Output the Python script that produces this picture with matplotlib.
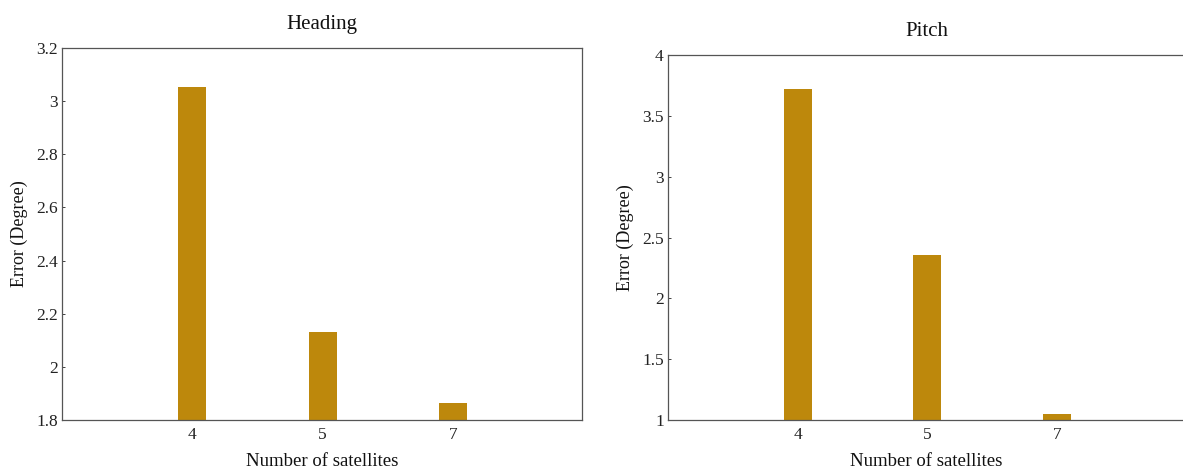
import matplotlib
matplotlib.use("Agg")
import matplotlib.pyplot as plt

categories = ["4", "5", "7"]
heading_err = [3.055, 2.13, 1.865]
pitch_err = [3.72, 2.36, 1.05]
heading_ticks = [1.8, 2.0, 2.2, 2.4, 2.6, 2.8, 3.0, 3.2]
heading_ticklabels = ["1.8", "2", "2.2", "2.4", "2.6", "2.8", "3", "3.2"]
pitch_ticks = [1.0, 1.5, 2.0, 2.5, 3.0, 3.5, 4.0]
pitch_ticklabels = ["1", "1.5", "2", "2.5", "3", "3.5", "4"]

plt.rcParams['font.family'] = ['Liberation Serif', 'DejaVu Serif']

W, H = 1183, 473
fig = plt.figure(figsize=(W / 100, H / 100), dpi=100)

bar_color = "#BD880C"
spine_color = "#555555"

def make_ax(left, right, top, bottom):
    return fig.add_axes([left / W, 1 - bottom / H, (right - left) / W, (bottom - top) / H])

ax1 = make_ax(62, 582, 48, 420)
ax2 = make_ax(668, 1185, 55, 420)

pos = [1, 2, 3]
for ax, vals, ylim, ticks, tlabels, title in [
    (ax1, heading_err, (1.8, 3.2), heading_ticks, heading_ticklabels, "Heading"),
    (ax2, pitch_err, (1.0, 4.0), pitch_ticks, pitch_ticklabels, "Pitch"),
]:
    ax.bar(pos, [v - ylim[0] for v in vals], bottom=ylim[0], width=0.215,
           color=bar_color, edgecolor="none", zorder=2)
    ax.set_xlim(0, 3.99)
    ax.set_ylim(*ylim)
    ax.set_xticks(pos)
    ax.set_xticklabels(categories)
    ax.set_yticks(ticks)
    ax.set_yticklabels(tlabels)
    ax.tick_params(axis='x', length=0, labelsize=12.5, pad=5, colors="#222222")
    ax.tick_params(axis='y', direction='in', length=2, width=0.6, labelsize=12.5,
                   pad=3, colors="#222222")
    for s in ax.spines.values():
        s.set_color(spine_color)
        s.set_linewidth(0.9)
    ax.set_title(title, fontsize=15, pad=14, color="#111111")
    ax.set_xlabel("Number of satellites", fontsize=13.5, labelpad=7, color="#111111")
    ax.set_ylabel("Error (Degree)", fontsize=13, labelpad=6, color="#111111")

fig.savefig("out.png", dpi=100)
